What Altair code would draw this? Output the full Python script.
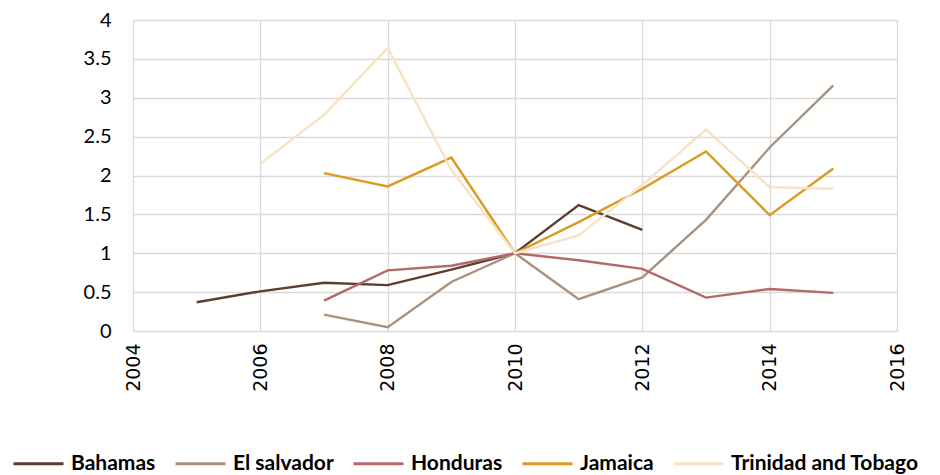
import altair as alt
import pandas as pd

years = [2005, 2006, 2007, 2008, 2009, 2010, 2011, 2012, 2013, 2014, 2015]
bahamas = [0.37, 0.51, 0.62, 0.59, 0.79, 1.0, 1.62, 1.30, None, None, None]
el_salvador = [None, None, 0.21, 0.05, 0.63, 1.0, 0.41, 0.69, 1.43, 2.36, 3.16]
honduras = [None, None, 0.39, 0.78, 0.84, 1.0, 0.91, 0.80, 0.43, 0.54, 0.49]
jamaica = [None, None, 2.03, 1.86, 2.23, 1.0, 1.40, 1.83, 2.31, 1.49, 2.09]
trinidad = [None, 2.15, 2.78, 3.64, 2.07, 1.0, 1.23, 1.88, 2.59, 1.85, 1.83]

series_names = ["Bahamas", "El salvador", "Honduras", "Jamaica", "Trinidad and Tobago"]
series_values = [bahamas, el_salvador, honduras, jamaica, trinidad]
colors = ["#5E3C31", "#A8927F", "#B5686A", "#DB9A20", "#F8E2C2"]

rows = []
for order, (name, vals) in enumerate(zip(series_names, series_values)):
    for y, v in zip(years, vals):
        if v is not None:
            rows.append({"Year": y, "Value": v, "Country": name, "ord": order})
df = pd.DataFrame(rows)

chart = alt.Chart(df).mark_line(strokeWidth=2.4).encode(
    x=alt.X("Year:Q",
            scale=alt.Scale(domain=[2004, 2016], nice=False, zero=False),
            axis=alt.Axis(values=[2004, 2006, 2008, 2010, 2012, 2014, 2016], format="d",
                          labelAngle=270, labelFont="DejaVu Sans", labelFontSize=19,
                          labelColor="#000000", labelPadding=12, labelAlign="right",
                          labelBaseline="middle",
                          tickSize=0, domain=False, title=None,
                          grid=True, gridColor="#D9D9D9", gridWidth=1.3)),
    y=alt.Y("Value:Q",
            scale=alt.Scale(domain=[0, 4], nice=False),
            axis=alt.Axis(values=[0, 0.5, 1, 1.5, 2, 2.5, 3, 3.5, 4], format="~g",
                          labelFont="Lato", labelFontSize=20, labelColor="#000000",
                          labelPadding=22, tickSize=0, domain=False, title=None,
                          grid=True, gridColor="#D9D9D9", gridWidth=1.3)),
    color=alt.Color("Country:N",
                    scale=alt.Scale(domain=series_names, range=colors),
                    legend=alt.Legend(title=None, orient="none", direction="horizontal",
                                      legendX=-121, legendY=417,
                                      symbolType="stroke", symbolSize=2500,
                                      symbolStrokeWidth=3, labelFont="Lato",
                                      labelFontWeight="bold", labelFontSize=21,
                                      labelColor="#000000", columnPadding=13,
                                      labelOffset=6, labelLimit=300)),
    order=alt.Order("ord:Q"),
    detail="Country:N",
).properties(
    width=764, height=311,
    autosize=alt.AutoSizeParams(type="none"),
    padding={"left": 125, "top": 12, "right": 35, "bottom": 145},
).configure_view(stroke=None)

chart.save("out.html", embed_options={"renderer": "svg", "actions": False})
